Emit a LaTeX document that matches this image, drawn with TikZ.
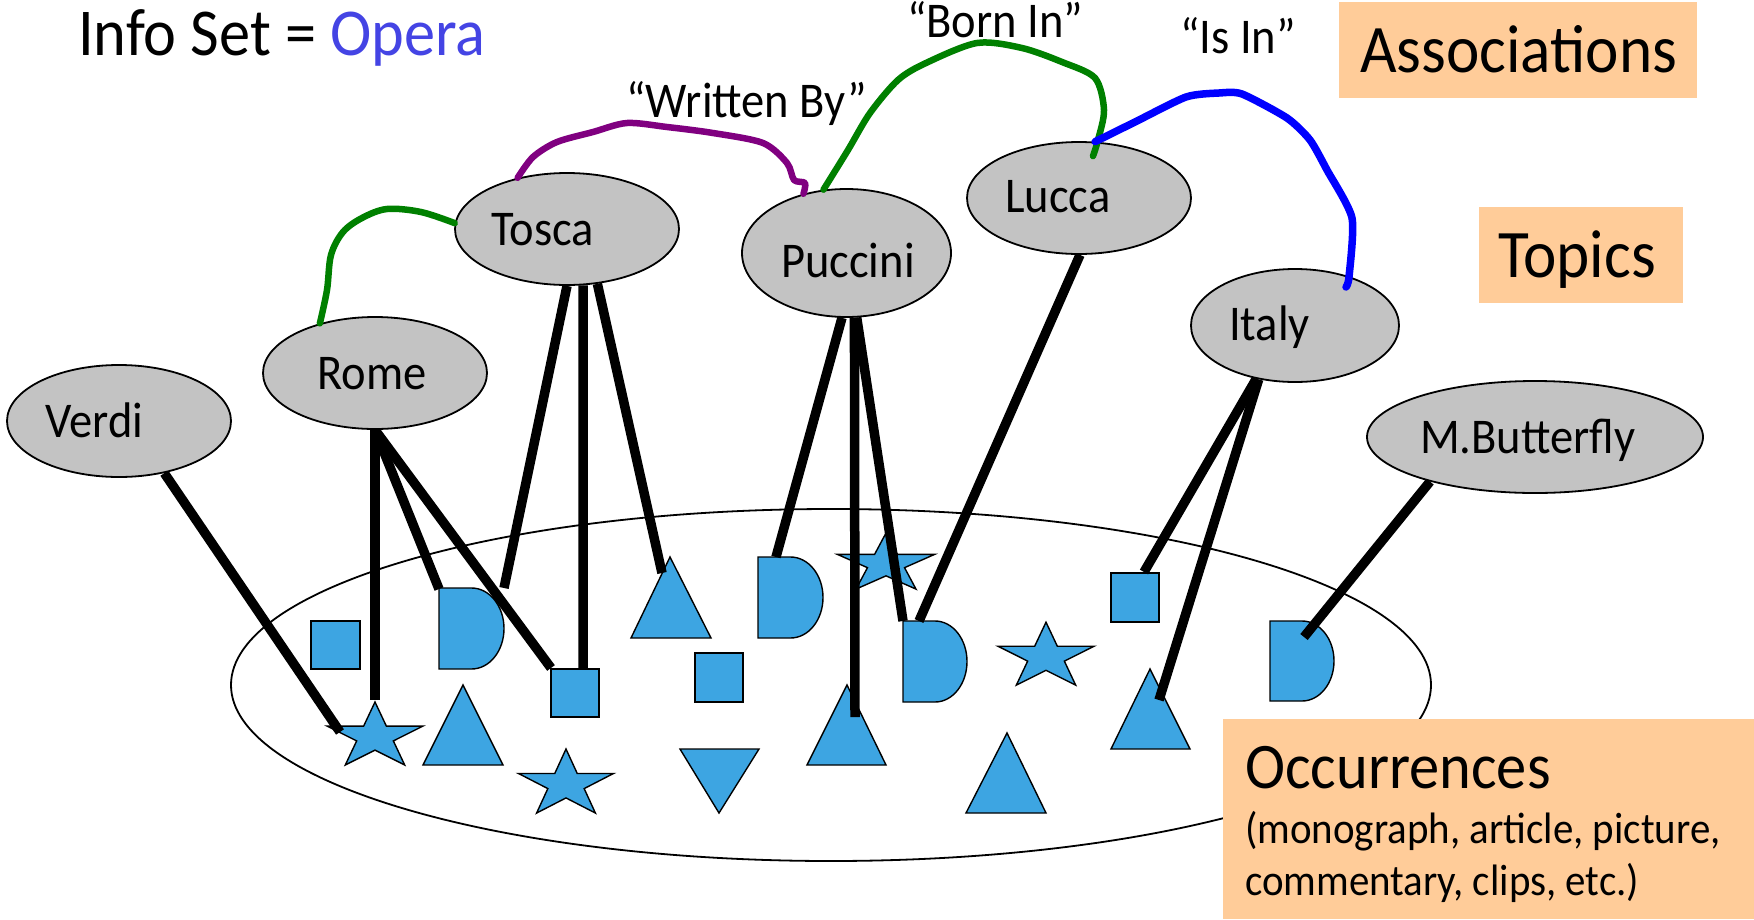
\documentclass[tikz,border=0pt]{standalone}
\usepackage{fontspec}
\setmainfont{Carlito}[FakeStretch=0.93]
\usetikzlibrary{shapes.geometric}
\definecolor{topicgray}{HTML}{C3C3C3}
\definecolor{occblue}{HTML}{3DA5E2}
\definecolor{peach}{HTML}{FFCC99}
\definecolor{operablue}{HTML}{4444E4}
\definecolor{assocgreen}{HTML}{008000}
\definecolor{assocpurple}{HTML}{800080}
\definecolor{assocblue}{HTML}{0000FF}
\pgfdeclarelayer{bg}
\pgfdeclarelayer{mid}
\pgfsetlayers{bg,mid,main}
\tikzset{
  topic/.style={ellipse, draw=black, line width=1.8pt, fill=topicgray, inner sep=0pt},
  occ/.style={draw=black, line width=1.4pt, fill=occblue, line join=miter},
  conn/.style={draw=black, line width=9.5pt},
  assoc/.style={line width=6.5pt, line cap=round, line join=round},
  peachbox/.style={fill=peach, draw=none, inner sep=0pt, anchor=north west},
  bigtext/.style={font=\fontsize{68}{80}\selectfont, inner sep=0pt, anchor=base west},
  labtext/.style={font=\fontsize{50}{60}\selectfont, inner sep=0pt, anchor=base west},
  smalltext/.style={font=\fontsize{44}{52}\selectfont, inner sep=0pt, anchor=base west}
}
\newcommand\occStar[5]{%
  \begin{scope}[shift={(#2,#3)},xscale=#4,yscale=-#5]
    \draw[occ] (90:1) -- (126:0.382) -- (162:1) -- (198:0.382) -- (234:1) -- (270:0.382)
      -- (306:1) -- (342:0.382) -- (18:1) -- (54:0.382) -- cycle;
    \coordinate (#1) at (0,0);
  \end{scope}}
\begin{document}
\begin{tikzpicture}[x=1pt,y=-1pt]
\useasboundingbox (0,0) rectangle (1754,919);

% ---------- occurrence set and occurrences ----------
\begin{pgfonlayer}{bg}
  \node[draw=black, line width=1.8pt, ellipse, minimum width=1200pt, minimum height=352pt, inner sep=0pt] (occset) at (831,685) {};
  % squares
  \draw[occ] (311,621) rectangle (360,669);
  \draw[occ] (551,669) rectangle (599,717);
  \draw[occ] (695,653) rectangle (743,702);
  \draw[occ] (1111,573) rectangle (1159,622);
  % triangles
  \draw[occ] (631,638) -- (670,557) -- (711,638) -- cycle;
  \draw[occ] (423,765) -- (463,685) -- (503,765) -- cycle;
  \draw[occ] (807,765) -- (847,685) -- (886,765) -- cycle;
  \draw[occ] (966,813) -- (1007,733) -- (1046,813) -- cycle;
  \draw[occ] (1111,749) -- (1150,669) -- (1190,749) -- cycle;
  \draw[occ] (680,749) -- (759,749) -- (719,813) -- cycle;
  % D shapes
  \draw[occ] (439,588) -- (471.5,588) .. controls (489.5,588) and (504,606.1) .. (504,628.5)
    .. controls (504,650.9) and (489.5,669) .. (471.5,669) -- (439,669) -- cycle;
  \draw[occ] (758,557) -- (790.5,557) .. controls (808.5,557) and (823,575.1) .. (823,597.5)
    .. controls (823,619.9) and (808.5,638) .. (790.5,638) -- (758,638) -- cycle;
  \draw[occ] (903,621) -- (935,621) .. controls (952.7,621) and (967,639.1) .. (967,661.5)
    .. controls (967,683.9) and (952.7,702) .. (935,702) -- (903,702) -- cycle;
  \draw[occ] (1270,621) -- (1302,621) .. controls (1319.7,621) and (1334,638.9) .. (1334,661)
    .. controls (1334,683.1) and (1319.7,701) .. (1302,701) -- (1270,701) -- cycle;
  % stars
  \occStar{star1}{375}{736.8}{50.5}{34.8}
  \occStar{star2}{566}{784.4}{50}{35.4}
  \occStar{star3}{886}{564}{51}{31}
  \occStar{star4}{1046}{657}{50.5}{34.8}
\end{pgfonlayer}

% ---------- topics ----------
\node[topic, minimum width=224pt, minimum height=112pt] (verdi) at (119,421) {};
\node[topic, minimum width=224pt, minimum height=112pt] (rome) at (375,373) {};
\node[topic, minimum width=224pt, minimum height=112pt] (tosca) at (567,229) {};
\node[topic, minimum width=209pt, minimum height=128pt] (puccini) at (846.5,253) {};
\node[topic, minimum width=224pt, minimum height=112pt] (lucca) at (1079,198) {};
\node[topic, minimum width=208pt, minimum height=113pt] (italy) at (1295,325.5) {};
\node[topic, minimum width=336pt, minimum height=112pt] (butterfly) at (1535,437) {};

\node[labtext] (verdi-t) at (45,437) {Verdi};
\node[labtext] (rome-t) at (317,389) {Rome};
\node[labtext] (tosca-t) at (491,245) {Tosca};
\node[labtext] (puccini-t) at (781,277) {Puccini};
\node[labtext] (lucca-t) at (1005,212) {Lucca};
\node[labtext] (italy-t) at (1229,340) {Italy};
\node[labtext] (butterfly-t) at (1420,453) {M.Butterfly};

% ---------- occurrence end points ----------
\coordinate (e-verdi) at (340,732);
\coordinate (e-rome1) at (375,700);
\coordinate (e-rome2) at (439,589);
\coordinate (e-rome3) at (551,668);
\coordinate (e-tosca1) at (504,588);
\coordinate (e-tosca2) at (583,668);
\coordinate (e-tosca3) at (662,573);
\coordinate (e-pucc1) at (776,557);
\coordinate (e-pucc2) at (855,717);
\coordinate (e-pucc3) at (903,621);
\coordinate (e-lucca) at (919,621);
\coordinate (e-italy1) at (1144,572);
\coordinate (e-italy2) at (1159,700);
\coordinate (e-butter) at (1304,637);

% ---------- occurrence links ----------
\begin{pgfonlayer}{mid}
  \draw[conn] (verdi.-49) -- (e-verdi);
  \draw[conn] (rome.south) -- (e-rome1);
  \draw[conn] (rome.south) -- (e-rome2);
  \draw[conn] (rome.south) -- (e-rome3);
  \draw[conn] (tosca.-90) -- (e-tosca1);
  \draw[conn] (tosca.-74) -- (e-tosca2);
  \draw[conn] (tosca.-61) -- (e-tosca3);
  \draw[conn] (puccini.-94) -- (e-pucc1);
  \draw[conn] (puccini.-83) -- (e-pucc2);
  \draw[conn] (puccini.-81) -- (e-pucc3);
  \draw[conn] (lucca.-89) -- (e-lucca);
  \draw[conn] (italy.-126) -- (e-italy1);
  \draw[conn] (italy.-124) -- (e-italy2);
  \draw[conn] (butterfly.-157.7) -- (e-butter);
\end{pgfonlayer}

% ---------- associations ----------
\draw[assoc, assocgreen] plot[smooth, tension=0.55] coordinates {(rome.138) (327,290) (331,255) (343,232) (362,218) (387,209) (421,212) (tosca.177)};
\draw[assoc, assocpurple] plot[smooth, tension=0.5] coordinates {(tosca.134) (533,157) (557,142) (593,132) (627,123) (667,127) (713,133) (763,143) (787,163) (794,180) (805,183) (puccini.126)};
\draw[assoc, assocgreen] plot[smooth, tension=0.5] coordinates {(puccini.110.5) (848,150) (870,113) (898,80) (926,63) (977,43) (1022,48) (1062,62) (1095,78) (1104,110) (1098,140) ([xshift=14pt,yshift=-15pt]lucca.north)};
\draw[assoc, assocblue, line width=7.5pt] plot[smooth, tension=0.4] coordinates {(lucca.74) (1135,122) (1186,97) (1219,93) (1242,94) (1287,118) (1310,140) (1327,170) (1352,218) (1349,277) ([xshift=51pt,yshift=38.5pt]italy.center)};

\node[labtext] (writtenby) at (626,117) {“Written By”};
\node[labtext] (bornin) at (907,37) {“Born In”};
\node[labtext] (isin) at (1180,53) {“Is In”};

% ---------- title and legend boxes ----------
\node[bigtext, font=\fontsize{67}{80}\selectfont] (infoset) at (78,55) {Info Set = \textcolor{operablue}{Opera}};

\node[peachbox, minimum width=358pt, minimum height=96pt] (assocbox) at (1339,2) {};
\node[bigtext] (assoc-t) at (1360,72) {Associations};
\node[peachbox, minimum width=204pt, minimum height=96pt] (topicbox) at (1479,207) {};
\node[bigtext] (topics-t) at (1498,277) {Topics};
\node[peachbox, minimum width=531pt, minimum height=200pt] (occbox) at (1223,719) {};
\node[bigtext, font=\fontsize{65}{78}\selectfont] (occ-t) at (1245,788) {Occurrences};
\node[smalltext] (occ-t2) at (1245,843) {(monograph, article, picture,};
\node[smalltext] (occ-t3) at (1245,895) {commentary, clips, etc.)};
\end{tikzpicture}
\end{document}
